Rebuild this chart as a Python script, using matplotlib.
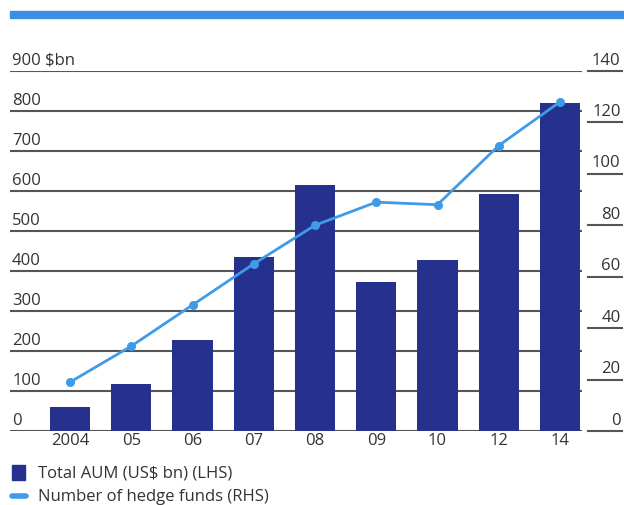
import matplotlib
matplotlib.use("Agg")
import matplotlib.pyplot as plt
from matplotlib.patches import Rectangle
from matplotlib.lines import Line2D
import matplotlib.transforms as mtransforms

years = ["2004", "05", "06", "07", "08", "09", "10", "12", "14"]
aum = [60, 117, 227, 435, 615, 372, 427, 592, 820]
funds = [19, 33, 49, 65, 80, 89, 88, 111, 128]
left_ticks = [0, 100, 200, 300, 400, 500, 600, 700, 800, 900]
left_labels = ["0", "100", "200", "300", "400", "500", "600", "700", "800", "900 $bn"]
right_ticks = [0, 20, 40, 60, 80, 100, 120, 140]
legend_labels = ["Total AUM (US$ bn) (LHS)", "Number of hedge funds (RHS)"]

BAR = "#25318c"
LINE = "#3f9be8"
GRID = "#555555"
TXT = "#333333"
FONT = "Open Sans"
FS = 12
plt.rcParams["font.family"] = [FONT, "DejaVu Sans"]

W, H = 624, 506
fig = plt.figure(figsize=(W / 100, H / 100), dpi=100)

def fx(px):
    return px / W

def fy(py):
    return 1 - py / H

ax_l, ax_r, ax_t, ax_b = 10, 582, 72, 432
ax = fig.add_axes([fx(ax_l), fy(ax_b), fx(ax_r - ax_l), (ax_b - ax_t) / H])
ax.set_facecolor("none")
x = list(range(len(years)))
step = 61.25
ax.set_xlim((ax_l - 70) / step, (ax_r - 70) / step)
ax.set_ylim(0, 900)

for t in left_ticks:
    ax.axhline(t, color=GRID, lw=1.5, zorder=1)
ax.bar(x, aum, width=0.66, color=BAR, zorder=2)

for t, lab in zip(left_ticks, left_labels):
    trans = mtransforms.offset_copy(ax.get_yaxis_transform(), fig=fig, x=1.5, y=2.5, units="points")
    ax.text(0.0, t, lab, transform=trans, ha="left", va="bottom", fontsize=FS, color=TXT)

ax.set_xticks(x)
ax.set_xticklabels(years, fontsize=FS, color=TXT)
ax.tick_params(axis="x", length=0, pad=1)
ax.set_yticks([])
for s in ax.spines.values():
    s.set_visible(False)

ax2 = ax.twinx()
ax2.set_ylim(0, 140)
ax2.plot(x, funds, color=LINE, lw=2, marker="o", ms=5.5, zorder=3)
ax2.set_yticks([])
for s in ax2.spines.values():
    s.set_visible(False)
x0 = (588 - ax_l) / (ax_r - ax_l)
x1 = (622 - ax_l) / (ax_r - ax_l)
for t in right_ticks:
    ax2.plot([x0, x1], [t, t], transform=ax2.get_yaxis_transform(), color=GRID, lw=1.5, clip_on=False)
    trans = mtransforms.offset_copy(ax2.get_yaxis_transform(), fig=fig, x=-1, y=2.5, units="points")
    ax2.text(x1, t, str(t), transform=trans, ha="right", va="bottom", fontsize=FS, color=TXT)

# top band
fig.patches.append(Rectangle((fx(10), fy(19)), fx(614), 7 / H, transform=fig.transFigure, color="#3d8fe3"))

# legend
fig.patches.append(Rectangle((fx(12), fy(481)), fx(13), 15 / H, transform=fig.transFigure, color=BAR))
fig.text(fx(38), fy(474), legend_labels[0], ha="left", va="center", fontsize=FS, color=TXT)
fig.lines.append(Line2D([fx(12), fx(26)], [fy(497), fy(497)], transform=fig.transFigure,
                        color=LINE, lw=4, solid_capstyle="round"))
fig.text(fx(38), fy(497), legend_labels[1], ha="left", va="center", fontsize=FS, color=TXT)

fig.savefig("out.png", dpi=100)
